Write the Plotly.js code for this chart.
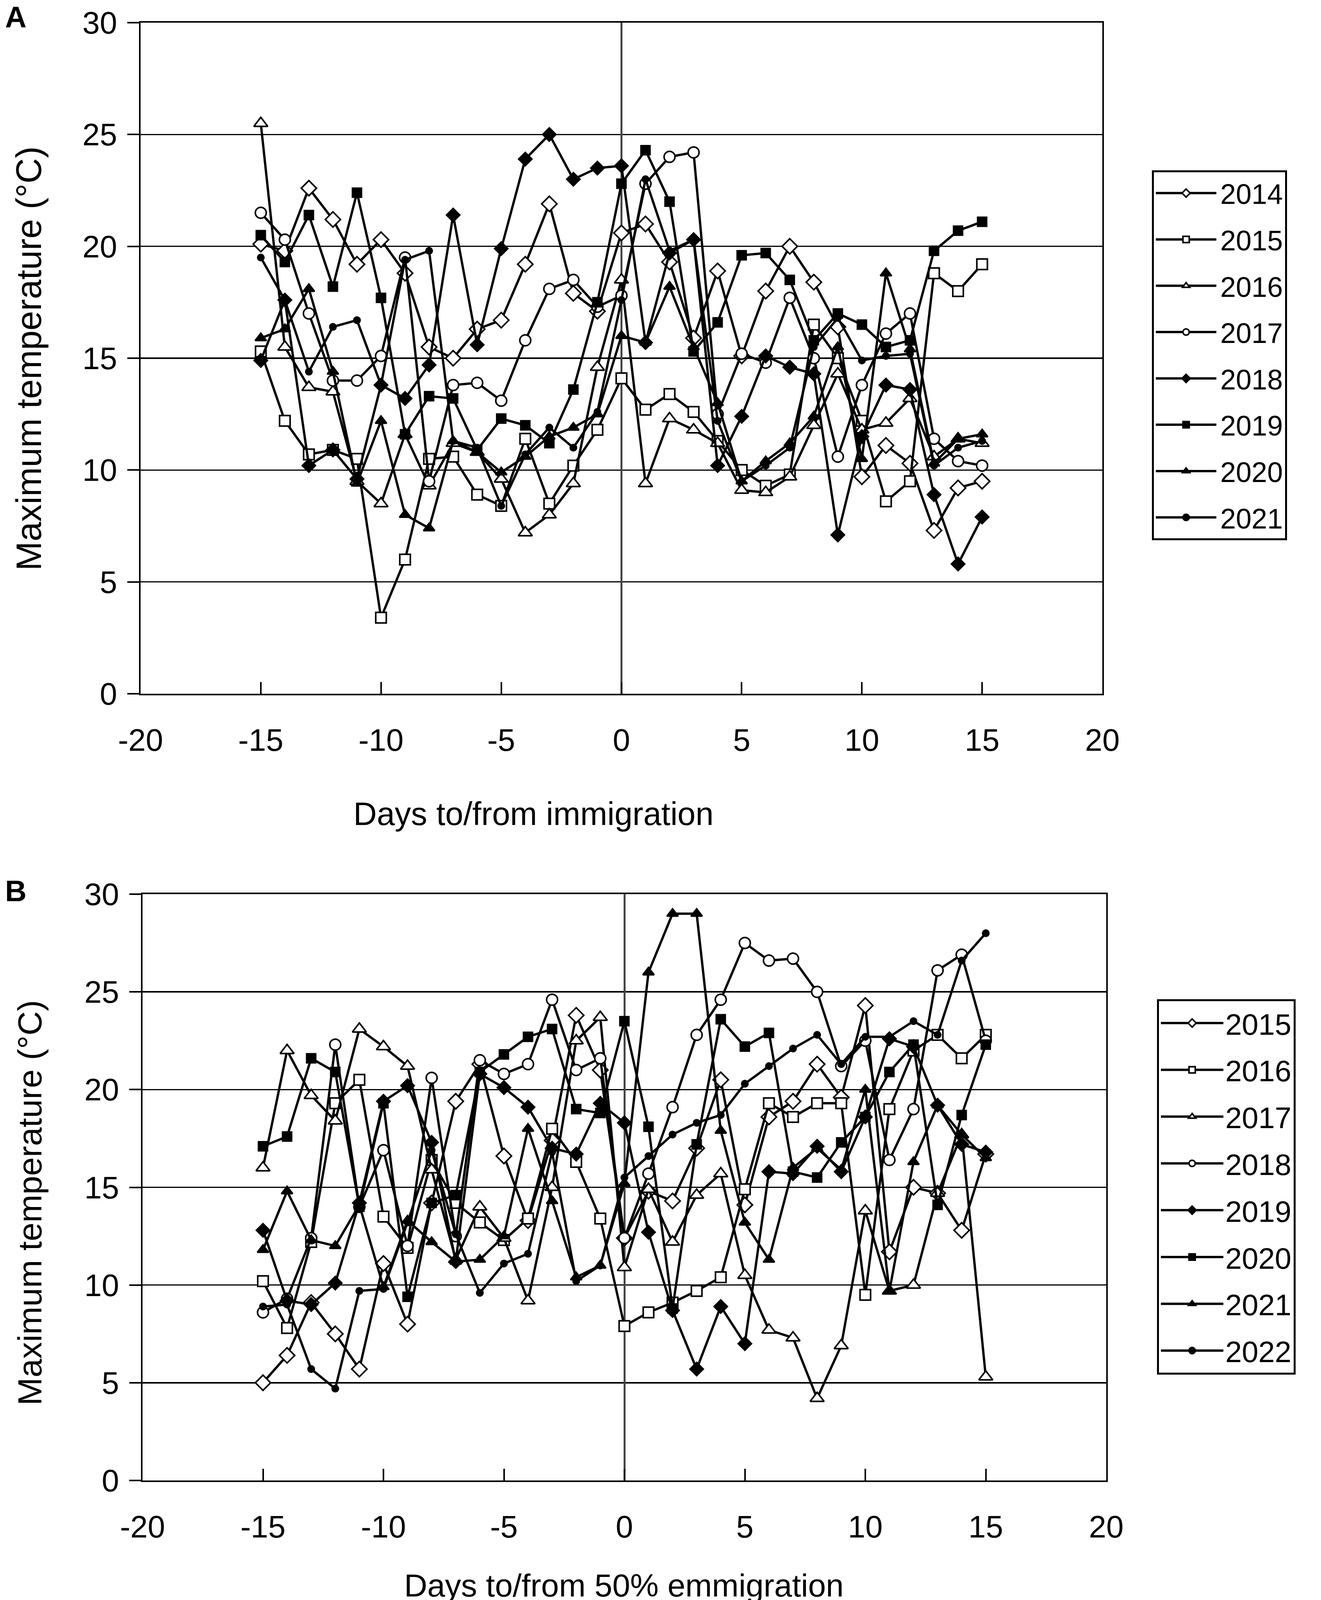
<!DOCTYPE html>
<html><head><meta charset="utf-8">
<script src="https://cdn.plot.ly/plotly-3.0.1.min.js"></script>
<style>html,body{margin:0;padding:0;background:#fff}#chart{width:3383px;height:4165px}</style>
</head><body><div id="chart"></div>
<script>
const days = [-15,-14,-13,-12,-11,-10,-9,-8,-7,-6,-5,-4,-3,-2,-1,0,1,2,3,4,5,6,7,8,9,10,11,12,13,14,15];
const xTickVals = [-20,-15,-10,-5,0,5,10,15,20];
const xTickText = ['-20','-15','-10','-5','0','5','10','15','20'];

// Panel A: days to/from immigration
const yearsA = ['2014','2015','2016','2017','2018','2019','2020','2021'];
const a2014 = [20.1,19.8,22.6,21.2,19.2,20.3,18.8,15.5,15.0,16.3,16.7,19.2,21.9,17.9,17.1,20.6,21.0,19.3,15.9,18.9,15.1,18.0,20.0,18.4,16.4,9.7,11.1,10.3,7.3,9.2,9.5];
const a2015 = [15.3,12.2,10.7,10.9,10.5,3.4,6.0,10.5,10.6,8.9,8.4,11.4,8.5,10.2,11.8,14.1,12.7,13.4,12.6,11.3,10.0,9.3,9.8,16.5,15.0,12.2,8.6,9.5,18.8,18.0,19.2];
const a2016 = [25.5,15.5,13.7,13.5,9.5,8.5,11.6,9.3,11.2,10.8,9.6,7.2,8.0,9.4,14.6,18.5,9.4,12.3,11.8,11.2,9.1,9.0,9.7,12.0,14.3,11.8,12.1,13.2,10.6,11.4,11.2];
const a2017 = [21.5,20.3,17.0,14.0,14.0,15.1,19.5,9.5,13.8,13.9,13.1,15.8,18.1,18.5,17.3,17.8,22.8,24.0,24.2,12.5,15.2,14.8,17.7,15.0,10.6,13.8,16.1,17.0,11.4,10.4,10.2];
const a2018 = [14.9,17.6,10.2,10.9,9.6,13.8,13.2,14.7,21.4,15.6,19.9,23.9,25.0,23.0,23.5,23.6,15.7,19.7,20.3,10.2,12.4,15.1,14.6,14.3,7.1,11.5,13.8,13.6,8.9,5.8,7.9];
const a2019 = [20.5,19.3,21.4,18.2,22.4,17.7,11.6,13.3,13.2,10.9,12.3,12.0,11.2,13.6,17.5,22.8,24.3,22.0,15.3,16.6,19.6,19.7,18.5,15.8,17.0,16.5,15.5,15.8,19.8,20.7,21.1];
const a2020 = [15.9,16.3,18.1,14.4,9.4,12.2,8.0,7.4,11.3,10.8,9.9,10.6,11.5,11.9,12.5,16.0,15.7,18.2,15.5,13.0,9.5,10.4,11.2,12.4,15.5,10.5,18.8,15.4,10.3,11.4,11.6];
const a2021 = [19.5,17.6,14.4,16.4,16.7,13.8,19.4,19.8,11.3,11.0,8.4,10.7,11.9,11.0,12.6,17.6,23.0,19.8,20.3,12.2,9.5,10.2,11.0,15.5,16.8,14.9,15.1,15.2,10.2,11.0,11.3];

// Panel B: days to/from 50% emmigration
const yearsB = ['2015','2016','2017','2018','2019','2020','2021','2022'];
const b2015 = [5.0,6.4,9.1,7.5,5.7,11.1,8.0,14.2,19.4,21.3,16.6,13.3,17.4,23.8,21.0,12.4,14.8,14.3,17.0,20.5,14.1,18.6,19.4,21.3,19.6,24.3,11.7,15.0,14.7,12.8,16.7];
const b2016 = [10.2,7.8,12.2,19.3,20.5,13.5,11.9,16.4,14.2,13.2,12.3,13.4,18.0,16.3,13.4,7.9,8.6,9.1,9.7,10.4,14.9,19.3,18.6,19.3,19.3,9.5,19.0,22.0,22.8,21.6,22.8];
const b2017 = [16.0,22.0,19.7,18.4,23.1,22.2,21.2,15.9,11.3,14.0,12.4,9.2,15.0,22.5,23.7,10.9,14.9,12.2,14.6,15.7,10.5,7.7,7.3,4.2,6.9,13.8,9.7,10.0,14.7,17.7,5.3];
const b2018 = [8.6,9.3,12.4,22.3,14.0,16.9,12.0,20.6,12.5,21.5,20.8,21.3,24.6,21.0,21.6,12.4,15.7,19.1,22.8,24.6,27.5,26.6,26.7,25.0,21.2,22.5,16.4,19.0,26.1,26.9,22.5];
const b2019 = [12.8,9.2,9.0,10.1,14.2,19.4,20.2,17.3,11.2,20.8,20.1,19.1,17.0,16.7,19.3,18.3,12.7,8.7,5.7,8.9,7.0,15.8,15.7,17.1,15.8,18.6,22.6,22.2,19.2,17.2,16.8];
const b2020 = [17.1,17.6,21.6,20.9,14.0,19.3,9.4,14.2,14.6,20.9,21.8,22.7,23.1,19.0,18.8,23.5,18.1,8.8,17.2,23.6,22.2,22.9,15.8,15.5,17.3,18.6,20.9,22.3,14.1,18.7,22.3];
const b2021 = [11.8,14.8,12.3,12.0,14.1,9.9,13.3,12.2,11.2,11.3,12.5,18.0,14.3,10.4,11.0,15.2,26.0,29.0,29.0,17.9,13.2,11.3,16.0,17.0,15.9,20.0,9.7,16.3,19.2,17.7,16.5];
const b2022 = [8.9,9.0,5.7,4.7,9.7,9.8,13.2,16.9,12.6,9.6,11.1,11.6,16.8,10.2,11.0,15.5,16.6,17.7,18.3,18.7,20.3,21.2,22.1,22.8,21.3,22.7,22.7,23.5,22.8,26.6,28.0];

const seriesA = [a2014,a2015,a2016,a2017,a2018,a2019,a2020,a2021];
const seriesB = [b2015,b2016,b2017,b2018,b2019,b2020,b2021,b2022];

// marker styles: open diamond, open square, open triangle, open circle, filled diamond, filled square, filled triangle, filled circle
const styles = [
  {symbol:'diamond', fill:'#ffffff', size:30},
  {symbol:'square', fill:'#ffffff', size:27},
  {symbol:'triangle-up', fill:'#ffffff', size:31},
  {symbol:'circle', fill:'#ffffff', size:28},
  {symbol:'diamond', fill:'#000000', size:26},
  {symbol:'square', fill:'#000000', size:23},
  {symbol:'triangle-up', fill:'#000000', size:25},
  {symbol:'circle', fill:'#000000', size:16}
];

const traces = [];
function addPanel(years, series, xa, ya, leg, prefix) {
  years.forEach((yr, i) => {
    const s = styles[i];
    traces.push({
      x: days, y: series[i], type: 'scatter', mode: 'lines+markers',
      name: yr, xaxis: xa, yaxis: ya, legend: leg, legendgroup: prefix + yr,
      line: {color: '#000', width: 6},
      marker: {symbol: s.symbol, size: s.size, color: s.fill, line: {color: '#000', width: 4}},
      cliponaxis: false
    });
  });
}
addPanel(yearsA, seriesA, 'x', 'y', 'legend', 'A');
addPanel(yearsB, seriesB, 'x2', 'y2', 'legend2', 'B');

const W = 3383, H = 4165;
const fontFam = 'Liberation Sans, Arial, sans-serif';
const tickFont = {family: fontFam, size: 80, color: '#000'};
function xax(d, anchor) {
  return {domain: d, anchor: anchor, range: [-20, 20], tickmode: 'array', tickvals: xTickVals, ticktext: xTickText,
    showgrid: false, zeroline: true, zerolinecolor: '#444', zerolinewidth: 5,
    showline: true, linecolor: '#000', linewidth: 4, mirror: true,
    ticks: 'inside', ticklen: 30, tickwidth: 4, tickcolor: '#000',
    tickfont: tickFont, ticklabelstandoff: 46, fixedrange: true};
}
function yax(d, anchor) {
  return {domain: d, anchor: anchor, range: [0, 30], dtick: 5, tick0: 0,
    showgrid: true, gridcolor: '#000', gridwidth: 3.5, zeroline: false,
    showline: true, linecolor: '#000', linewidth: 4, mirror: true,
    ticks: 'outside', ticklen: 30, tickwidth: 4, tickcolor: '#000',
    tickfont: tickFont, ticklabelstandoff: 10, fixedrange: true};
}
const ITEMW = 160;
const legBase = {xanchor: 'left', yanchor: 'top', bordercolor: '#000', borderwidth: 5,
  bgcolor: '#fff', traceorder: 'grouped', itemwidth: ITEMW};
const layout = {
  width: W, height: H, margin: {l: 0, r: 0, t: 0, b: 0},
  paper_bgcolor: '#fff', plot_bgcolor: '#fff', showlegend: true,
  xaxis: xax([360/W, 2823/W], 'y'),
  yaxis: yax([1 - 1776/H, 1 - 58/H], 'x'),
  xaxis2: xax([365/W, 2833/W], 'y2'),
  yaxis2: yax([1 - 3790/H, 1 - 2289/H], 'x2'),
  legend: Object.assign({x: 2950/W, y: 1 - 436/H, tracegroupgap: 22, font: {family: fontFam, size: 72, color: '#000'}}, legBase),
  legend2: Object.assign({x: 2963/W, y: 1 - 2558/H, tracegroupgap: 18, font: {family: fontFam, size: 76, color: '#000'}}, legBase),
  annotations: [
    {text: '<b>A</b>', x: 40/W, y: 1, yanchor: 'top', font: {family: fontFam, size: 76, color: '#000'}},
    {text: '<b>B</b>', x: 40/W, y: 1 - 2280/H, font: {family: fontFam, size: 76, color: '#000'}},
    {text: 'Maximum temperature (°C)', x: 74/W, y: 1 - 918/H, textangle: -90, font: {family: fontFam, size: 90, color: '#000'}},
    {text: 'Maximum temperature (°C)', x: 76/W, y: 1 - 3079/H, textangle: -90, font: {family: fontFam, size: 86, color: '#000'}},
    {text: 'Days to/from immigration', x: 1366/W, y: 1 - 2083/H, font: {family: fontFam, size: 83, color: '#000'}},
    {text: 'Days to/from 50% emmigration', x: 1598/W, y: 1 - 4058/H, font: {family: fontFam, size: 82, color: '#000'}}
  ].map(a => Object.assign({xref: 'paper', yref: 'paper', showarrow: false, xanchor: 'center', yanchor: 'middle', borderpad: 0}, a))
};
Plotly.newPlot('chart', traces, layout, {staticPlot: true, displayModeBar: false}).then(() => {
  // lengthen legend line samples (Excel-style) and centre the marker on them
  document.querySelectorAll('.legend .traces').forEach(g => {
    g.querySelectorAll('.legendlines path').forEach(p => p.setAttribute('d', 'M5,0h' + (ITEMW - 5)));
    g.querySelectorAll('.legendpoints path').forEach(p => p.setAttribute('transform', 'translate(' + ((ITEMW + 5) / 2) + ',0)'));
  });
});
</script></body></html>
